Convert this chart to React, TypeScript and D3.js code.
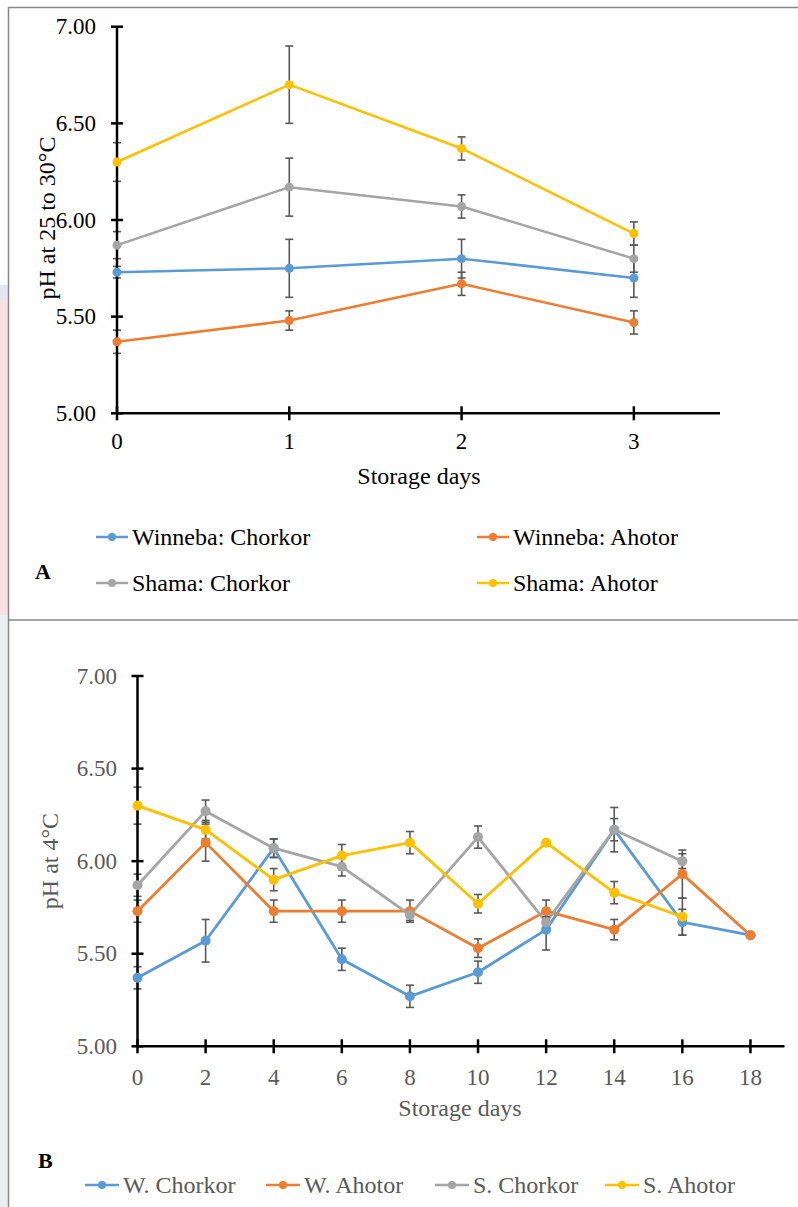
import React from "react";
import * as d3 from "d3";

// ---------- Panel A data ----------
const daysA = [0, 1, 2, 3];
const aWinnebaChorkor = [5.73, 5.75, 5.8, 5.7];
const aWinnebaChorkorErr = [0.03, 0.15, 0.1, 0.1];
const aWinnebaAhotor = [5.37, 5.48, 5.67, 5.47];
const aWinnebaAhotorErr = [0.06, 0.05, 0.06, 0.06];
const aShamaChorkor = [5.87, 6.17, 6.07, 5.8];
const aShamaChorkorErr = [0.07, 0.15, 0.06, 0.07];
const aShamaAhotor = [6.3, 6.7, 6.37, 5.93];
const aShamaAhotorErr = [0.1, 0.2, 0.06, 0.06];
const legendA = ["Winneba: Chorkor", "Winneba: Ahotor", "Shama: Chorkor", "Shama: Ahotor"];
const yTicks = [5.0, 5.5, 6.0, 6.5, 7.0];

// ---------- Panel B data ----------
const daysB = [0, 2, 4, 6, 8, 10, 12, 14, 16, 18];
const bWChorkor = [5.37, 5.57, 6.07, 5.47, 5.27, 5.4, 5.63, 6.17, 5.67, 5.6];
const bWChorkorErr = [0.06, 0.115, 0.05, 0.06, 0.06, 0.06, 0.11, 0.06, 0.07, 0];
const bWAhotor = [5.73, 6.1, 5.73, 5.73, 5.73, 5.53, 5.73, 5.63, 5.93, 5.6];
const bWAhotorErr = [0.06, 0.1, 0.06, 0.06, 0.06, 0.05, 0.06, 0.055, 0.13, 0];
const bSChorkor = [5.87, 6.27, 6.07, 5.97, 5.71, 6.13, 5.67, 6.17, 6.0, null];
const bSChorkorErr = [0.06, 0.06, 0.05, 0.05, 0.03, 0.06, 0.03, 0.12, 0.04, null];
const bSAhotor = [6.3, 6.17, 5.9, 6.03, 6.1, 5.77, 6.1, 5.83, 5.7, null];
const bSAhotorErr = [0.1, 0.05, 0.06, 0.06, 0.06, 0.05, 0, 0.06, 0.1, null];
const legendB = ["W. Chorkor", "W. Ahotor", "S. Chorkor", "S. Ahotor"];

const colors = ["#5B9BD5", "#ED7D31", "#A5A5A5", "#FFC000"];
const FONT = "'Liberation Serif', 'Times New Roman', serif";
const ERR = "#595959";

type Series = { vals: (number | null)[]; errs: (number | null)[]; color: string };

function Panel(props: {
  days: number[];
  series: Series[];
  x: d3.ScaleLinear<number, number>;
  y: d3.ScaleLinear<number, number>;
  xTicks: number[];
  textColor: string;
  lineW: number;
  r: number;
  yTitle: string;
  yTitlePos: [number, number];
  xTitlePos: [number, number];
  xTickY: number;
  yTickX: number;
}) {
  const { days, series, x, y, xTicks, textColor, lineW, r } = props;
  const [x0, x1] = x.range();
  const [y0, y1] = y.range();
  const line = d3
    .line<[number, number | null]>()
    .defined((d) => d[1] != null)
    .x((d) => x(d[0]))
    .y((d) => y(d[1] as number));
  return (
    <g>
      {/* series lines */}
      {series.map((s, i) => (
        <path
          key={"l" + i}
          d={line(days.map((d, j) => [d, s.vals[j]]) as [number, number | null][]) || ""}
          fill="none"
          stroke={s.color}
          strokeWidth={lineW}
          strokeLinejoin="round"
        />
      ))}
      {/* error bars */}
      {series.map((s, i) =>
        days.map((d, j) => {
          const v = s.vals[j];
          const e = s.errs[j];
          if (v == null || !e) return null;
          const cx = x(d);
          return (
            <g key={"e" + i + "-" + j} stroke={ERR} strokeWidth={1.6}>
              <line x1={cx} x2={cx} y1={y(v + e)} y2={y(v - e)} />
              <line x1={cx - 4} x2={cx + 4} y1={y(v + e)} y2={y(v + e)} />
              <line x1={cx - 4} x2={cx + 4} y1={y(v - e)} y2={y(v - e)} />
            </g>
          );
        })
      )}
      {/* axes */}
      <g stroke="#000" strokeWidth={2.5}>
        <line x1={x0} x2={x0} y1={y0} y2={y1} />
        <line x1={x0 - 1} x2={x1} y1={y0} y2={y0} />
        {yTicks.map((t) => (
          <line key={"yt" + t} x1={x0 - 6} x2={x0 + 6} y1={y(t)} y2={y(t)} />
        ))}
        {xTicks.map((t) => (
          <line key={"xt" + t} x1={x(t)} x2={x(t)} y1={y0 - 7} y2={y0 + 7} />
        ))}
      </g>
      {/* markers */}
      {series.map((s, i) =>
        days.map((d, j) => {
          const v = s.vals[j];
          if (v == null) return null;
          return <circle key={"m" + i + "-" + j} cx={x(d)} cy={y(v)} r={r} fill={s.color} />;
        })
      )}
      {/* tick labels */}
      <g fontFamily={FONT} fill={textColor} fontSize={23}>
        {yTicks.map((t) => (
          <text key={"yl" + t} x={props.yTickX} y={y(t)} textAnchor="end" dominantBaseline="central">
            {d3.format(".2f")(t)}
          </text>
        ))}
        {xTicks.map((t) => (
          <text key={"xl" + t} x={x(t)} y={props.xTickY} textAnchor="middle" dominantBaseline="central">
            {t}
          </text>
        ))}
      </g>
      <text
        fontFamily={FONT}
        fill={textColor}
        fontSize={24}
        x={props.xTitlePos[0]}
        y={props.xTitlePos[1]}
        textAnchor="middle"
        dominantBaseline="central"
      >
        Storage days
      </text>
      <text
        fontFamily={FONT}
        fill={textColor}
        fontSize={24}
        transform={`translate(${props.yTitlePos[0]},${props.yTitlePos[1]}) rotate(-90)`}
        textAnchor="middle"
        dominantBaseline="central"
      >
        {props.yTitle}
      </text>
    </g>
  );
}

function LegendItem(props: { x: number; y: number; color: string; label: string; textColor: string; len: number }) {
  const { x, y, color, label, textColor, len } = props;
  return (
    <g>
      <line x1={x} x2={x + len} y1={y} y2={y} stroke={color} strokeWidth={2.5} />
      <circle cx={x + len / 2} cy={y} r={4} fill={color} />
      <text x={x + len + 4} y={y} fontFamily={FONT} fontSize={24} fill={textColor} dominantBaseline="central">
        {label}
      </text>
    </g>
  );
}

export default function App() {
  const xA = d3.scaleLinear().domain([0, 3.5]).range([117, 720]);
  const yA = d3.scaleLinear().domain([5, 7]).range([413.3, 26.7]);
  const xB = d3.scaleLinear().domain([0, 19]).range([137.5, 784.5]);
  const yB = d3.scaleLinear().domain([5, 7]).range([1046.3, 676]);

  const seriesA: Series[] = [
    { vals: aWinnebaChorkor, errs: aWinnebaChorkorErr, color: colors[0] },
    { vals: aWinnebaAhotor, errs: aWinnebaAhotorErr, color: colors[1] },
    { vals: aShamaChorkor, errs: aShamaChorkorErr, color: colors[2] },
    { vals: aShamaAhotor, errs: aShamaAhotorErr, color: colors[3] },
  ];
  const seriesB: Series[] = [
    { vals: bWChorkor, errs: bWChorkorErr, color: colors[0] },
    { vals: bWAhotor, errs: bWAhotorErr, color: colors[1] },
    { vals: bSChorkor, errs: bSChorkorErr, color: colors[2] },
    { vals: bSAhotor, errs: bSAhotorErr, color: colors[3] },
  ];

  const legendAPos: [number, number][] = [
    [96, 537],
    [477, 537],
    [96, 583],
    [477, 583],
  ];
  const legendBX = [85, 266, 435, 605];

  return (
    <div style={{ position: "absolute", left: 0, top: 0 }}>
      <svg width={798} height={1207} style={{ display: "block" }}>
        <rect x={0} y={0} width={798} height={1207} fill="#fff" />
        {/* left page strip */}
        <rect x={0} y={285} width={8} height={15} fill="#e4e7f0" />
        <rect x={0} y={300} width={8} height={315} fill="#fbe1e3" />
        <rect x={0} y={615} width={8} height={592} fill="#eceef4" />
        {/* frame */}
        <g stroke="#888" strokeWidth={1.5}>
          <line x1={8.5} x2={798} y1={7.5} y2={7.5} />
          <line x1={8.5} x2={8.5} y1={7} y2={1207} />
          <line x1={8.5} x2={798} y1={620} y2={620} />
        </g>

        <Panel
          days={daysA}
          series={seriesA}
          x={xA}
          y={yA}
          xTicks={daysA}
          textColor="#000"
          lineW={2.5}
          r={4.5}
          yTitle="pH at 25 to 30°C"
          yTitlePos={[47, 218]}
          xTitlePos={[419, 476]}
          xTickY={441}
          yTickX={96}
        />
        {legendA.map((l, i) => (
          <LegendItem
            key={l}
            x={legendAPos[i][0]}
            y={legendAPos[i][1]}
            color={colors[i]}
            label={l}
            textColor="#000"
            len={32}
          />
        ))}
        <text x={35} y={571} fontFamily={FONT} fontSize={22} fontWeight="bold" dominantBaseline="central">
          A
        </text>

        <Panel
          days={daysB}
          series={seriesB}
          x={xB}
          y={yB}
          xTicks={daysB}
          textColor="#595959"
          lineW={2.8}
          r={5}
          yTitle="pH at 4°C"
          yTitlePos={[50, 861]}
          xTitlePos={[460, 1108]}
          xTickY={1077}
          yTickX={117}
        />
        {legendB.map((l, i) => (
          <LegendItem
            key={l}
            x={legendBX[i]}
            y={1185}
            color={colors[i]}
            label={l}
            textColor="#595959"
            len={34}
          />
        ))}
        <text x={38} y={1160} fontFamily={FONT} fontSize={22} fontWeight="bold" dominantBaseline="central">
          B
        </text>
      </svg>
    </div>
  );
}
